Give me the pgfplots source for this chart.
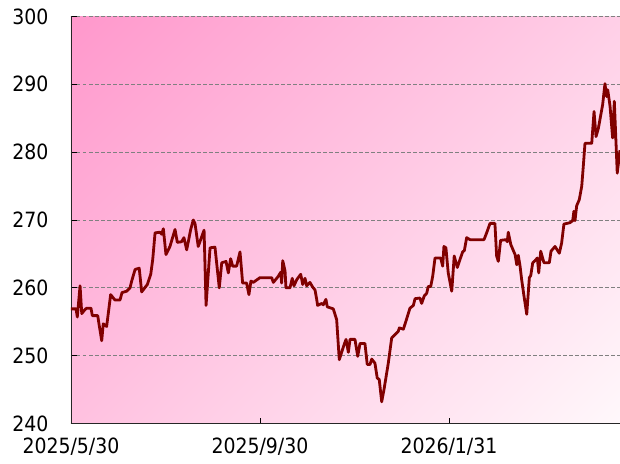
\documentclass[border=0pt]{standalone}
\usepackage{fontspec}
\setmainfont{DejaVu Sans Condensed}
\usepackage{pgfplots}
\pgfplotsset{compat=1.18}
\definecolor{bgA}{RGB}{255,152,204}
\definecolor{bgB}{RGB}{255,248,251}
\definecolor{lineC}{RGB}{128,0,0}
\pgfdeclareverticalshading{diagbg}{100bp}{color(0bp)=(bgB); color(14.65bp)=(bgB); color(85.35bp)=(bgA); color(100bp)=(bgA)}
\begin{document}
\begin{tikzpicture}
\begin{axis}[
  at={(0,0)}, anchor=south west,
  scale only axis, width=549pt, height=407pt,
  xmin=0, xmax=357.3, ymin=240, ymax=300,
  axis x line*=bottom, axis y line*=left,
  axis line style={black!85, line width=0.8pt, -},
  xtick={0,123,246},
  xticklabels={2025/5/30,2025/9/30,2026/1/31},
  ytick={240,250,...,300},
  tick align=inside, major tick length=6pt,
  tick style={black, line width=0.8pt},
  ymajorgrids,
  grid style={gray, dash pattern=on 3.5pt off 2.5pt, line width=0.7pt},
  ticklabel style={font=\fontsize{21}{24}\selectfont},
  /pgf/number format/assume math mode=true,
  yticklabel style={xshift=-19pt},
  xticklabel style={yshift=-11pt},
  axis background/.style={shading=diagbg, shading angle=45},
  clip=true,
]
\addplot[lineC, line width=2.8pt, line join=round] coordinates {
(0,256.9)(3.3,256.9)(4.1,255.7)(5.9,260.3)(7.0,256.2)(9.1,256.8)(10.2,257.0)(13.0,257.0)
(13.9,255.9)(17.4,255.9)(18.2,254.7)(20.0,252.2)(21.0,254.7)(23.2,254.3)(25.8,259.0)
(28.6,258.2)(31.9,258.2)(33.2,259.3)(36.2,259.5)(38.4,260.0)(39.5,261.0)(41.7,262.7)
(44.4,262.9)(46.0,259.4)(49.7,260.5)(51.9,262.0)(53.2,264.2)(54.7,268.1)(57.9,268.2)
(59.0,267.9)(60.1,268.7)(61.8,264.9)(64.4,266.1)(67.7,268.6)(69.2,266.7)(72.0,266.8)
(73.5,267.4)(75.3,265.6)(77.9,268.6)(79.6,270.0)(80.7,269.5)(82.8,266.1)(86.6,268.5)
(87.9,257.4)(90.5,265.9)(93.7,266.0)(96.5,260.0)(98.1,263.7)(99.6,263.8)(100.9,263.9)
(102.4,262.2)(103.9,264.3)(105.2,263.2)(107.8,263.2)(110.0,265.3)(111.7,260.7)(114.3,260.7)
(115.8,259.0)(117.1,261.0)(118.6,260.8)(123.0,261.5)(130.6,261.5)(131.7,260.8)(134.9,261.7)
(136.5,262.3)(137.1,260.7)(137.8,264.0)(139.3,262.5)(139.9,260.0)(142.5,260.0)(144.0,261.4)
(145.1,260.3)(146.9,261.2)(149.5,262.0)(150.8,260.5)(152.3,261.4)(153.4,260.3)(155.5,260.8)
(157.3,260.1)(158.8,259.7)(159.9,258.3)(160.5,257.4)(163.2,257.7)(164.2,257.5)(165.9,258.3)
(166.8,257.2)(168.1,257.1)(170.7,256.9)(172.9,255.3)(174.6,249.4)(177.7,251.6)(179.0,252.4)
(180.5,250.5)(181.6,252.4)(184.8,252.4)(186.6,249.9)(188.1,251.8)(191.3,251.8)(192.8,248.7)
(194.6,248.7)(195.7,249.5)(197.8,248.9)(199.3,246.7)(200.6,246.5)(202.2,243.2)(203.7,245.0)
(206.5,248.9)(208.7,252.6)(210.9,253.1)(213.0,253.6)(213.7,254.1)(216.3,253.9)(218.0,255.1)
(220.6,257.0)(222.8,257.4)(223.9,258.4)(227.1,258.5)(228.2,257.7)(229.9,258.8)(231.5,259.2)
(232.5,260.2)(234.1,260.2)(235.4,261.7)(236.9,264.4)(240.6,264.4)(241.9,263.2)(242.7,266.1)
(244.0,265.9)(245.5,262.2)(247.8,259.5)(249.4,264.7)(251.4,263.0)(253.2,264.2)(254.9,265.3)
(256.0,265.5)(257.5,267.4)(259.7,267.1)(268.8,267.1)(270.5,268.1)(272.7,269.5)(275.9,269.5)
(277.0,264.7)(278.1,263.9)(279.6,267.0)(283.1,267.1)(283.9,266.8)(284.6,268.2)(286.2,266.4)
(289.0,264.9)(290.1,263.4)(291.1,264.8)(292.2,263.3)(293.3,261.2)(294.8,258.8)(296.6,256.1)
(298.3,261.5)(299.2,261.8)(300.5,263.7)(302.0,264.0)(303.5,264.4)(304.4,262.2)(305.7,265.4)
(307.8,263.7)(311.3,263.7)(312.4,265.4)(315.0,266.1)(317.8,265.1)(319.3,266.6)(320.8,269.4)
(324.7,269.6)(326.5,269.9)(327.3,271.3)(328.0,269.9)(329.1,272.1)(330.8,273.0)(332.4,275.0)
(333.4,277.9)(334.5,281.3)(338.9,281.3)(340.4,286.0)(341.7,282.3)(343.2,283.5)(346.0,287.0)
(347.5,290.1)(348.6,288.2)(349.3,289.2)(350.8,286.8)(352.5,282.1)(353.6,287.5)(355.5,276.9)
(357.3,280.3)
};
\end{axis}
\pgfresetboundingbox
\path (-71pt,-39.5pt) rectangle (549pt,423.5pt);
\end{tikzpicture}
\end{document}
